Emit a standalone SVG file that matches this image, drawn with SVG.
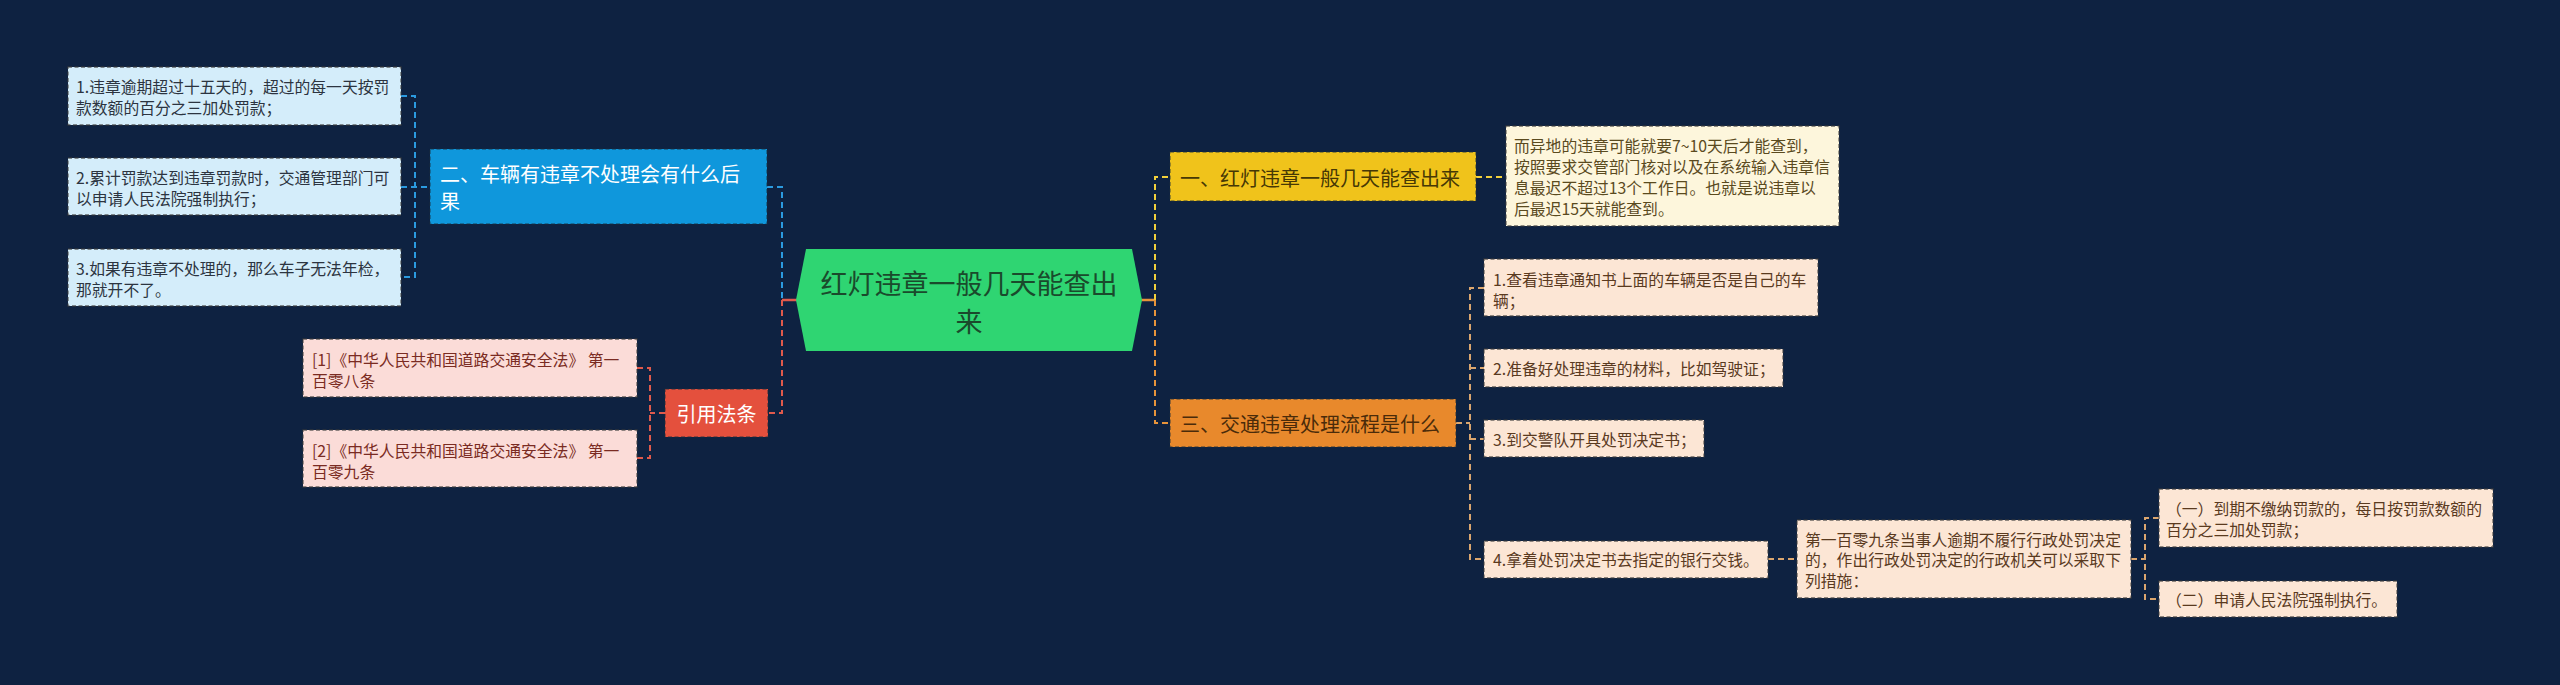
<svg xmlns="http://www.w3.org/2000/svg" width="2560" height="685" viewBox="0 0 2560 685">
<style>
text{font-family:"Noto Sans CJK SC","Microsoft YaHei","Noto Sans",sans-serif;dominant-baseline:central}
.t{font-size:15.8px}
.n{font-size:20px}
.nb{stroke:#1c2b3c;stroke-opacity:0.55;stroke-width:1.5;stroke-dasharray:4 2.5}
.lb{stroke:#3a3a3a;stroke-opacity:0.75;stroke-width:1.3;stroke-dasharray:4 2.5}
.c{fill:none;stroke-width:2;stroke-dasharray:6 4}
.s{fill:none;stroke-width:2.5}
</style>
<rect width="2560" height="685" fill="#0e2241"/>
<g id="connectors">
<path class="c" stroke="#2b9be0" d="M401,96H415V277H401M401,187H430M767,187H782V300"/>
<path class="c" stroke="#e05a4c" d="M782,300V413H768M665,413H650M637,368H650V458H637"/>
<path class="s" stroke="#e05a4c" d="M782,300H797"/>
<path class="s" stroke="#e8943a" d="M1141,300H1155"/>
<path class="c" stroke="#f2d13b" d="M1155,300V177H1170M1476,177H1506"/>
<path class="c" stroke="#e8943a" d="M1155,300V423H1170"/>
<path class="c" stroke="#dba66e" d="M1456,423H1470M1484,288H1470V559H1484M1470,368H1484M1470,439H1484M1768,559H1797M2131,559H2145M2159,518H2145V599H2159"/>
</g>
<g id="center">
<polygon points="796,300 806,249 1132,249 1142,300 1132,351 806,351" fill="#2fd572"/>
<text x="969" y="282" text-anchor="middle" font-size="27" fill="#1a4a2c">红灯违章一般几天能查出</text>
<text x="969" y="320" text-anchor="middle" font-size="27" fill="#1a4a2c">来</text>
</g>
<g id="node-b2">
<rect class="nb" x="430" y="149" width="337" height="75" fill="#0f97dc"/>
<text class="n" x="440" y="173" fill="#ffffff">二、车辆有违章不处理会有什么后</text>
<text class="n" x="440" y="200" fill="#ffffff">果</text>
</g>
<g id="b2-1">
<rect class="lb" x="68" y="67" width="333" height="58" fill="#d4edfa"/>
<text class="t" x="76" y="86" fill="#2c3440">1.违章逾期超过十五天的，超过的每一天按罚</text>
<text class="t" x="76" y="107" fill="#2c3440">款数额的百分之三加处罚款；</text>
</g>
<g id="b2-2">
<rect class="lb" x="68" y="158" width="333" height="57" fill="#d4edfa"/>
<text class="t" x="76" y="177" fill="#2c3440">2.累计罚款达到违章罚款时，交通管理部门可</text>
<text class="t" x="76" y="198" fill="#2c3440">以申请人民法院强制执行；</text>
</g>
<g id="b2-3">
<rect class="lb" x="68" y="249" width="333" height="57" fill="#d4edfa"/>
<text class="t" x="76" y="268" fill="#2c3440">3.如果有违章不处理的，那么车子无法年检，</text>
<text class="t" x="76" y="289" fill="#2c3440">那就开不了。</text>
</g>
<g id="node-ref">
<rect class="nb" x="665" y="389" width="103" height="48" fill="#e4503d"/>
<text class="n" x="716.5" y="413" text-anchor="middle" fill="#ffffff">引用法条</text>
</g>
<g id="ref-1">
<rect class="lb" x="303" y="339" width="334" height="58" fill="#fbdcd8"/>
<text class="t" x="312" y="359" fill="#7a2b22">[1]《中华人民共和国道路交通安全法》 第一</text>
<text class="t" x="312" y="380" fill="#7a2b22">百零八条</text>
</g>
<g id="ref-2">
<rect class="lb" x="303" y="430" width="334" height="57" fill="#fbdcd8"/>
<text class="t" x="312" y="450" fill="#7a2b22">[2]《中华人民共和国道路交通安全法》 第一</text>
<text class="t" x="312" y="471" fill="#7a2b22">百零九条</text>
</g>
<g id="node-b1">
<rect class="nb" x="1170" y="152" width="306" height="49" fill="#f0c31b"/>
<text class="n" x="1180" y="177" fill="#463805">一、红灯违章一般几天能查出来</text>
</g>
<g id="b1-1">
<rect class="lb" x="1506" y="126" width="333" height="100" fill="#fdf6dc"/>
<text class="t" x="1514" y="145" fill="#5a4a1e">而异地的违章可能就要7~10天后才能查到，</text>
<text class="t" x="1514" y="166" fill="#5a4a1e">按照要求交管部门核对以及在系统输入违章信</text>
<text class="t" x="1514" y="187" fill="#5a4a1e">息最迟不超过13个工作日。也就是说违章以</text>
<text class="t" x="1514" y="208" fill="#5a4a1e">后最迟15天就能查到。</text>
</g>
<g id="node-b3">
<rect class="nb" x="1170" y="399" width="286" height="48" fill="#e8892c"/>
<text class="n" x="1180" y="423" fill="#4a2b0a">三、交通违章处理流程是什么</text>
</g>
<g id="b3-1">
<rect class="lb" x="1484" y="259" width="334" height="57" fill="#fce6d5"/>
<text class="t" x="1493" y="279" fill="#5a3a1f">1.查看违章通知书上面的车辆是否是自己的车</text>
<text class="t" x="1493" y="300" fill="#5a3a1f">辆；</text>
</g>
<g id="b3-2">
<rect class="lb" x="1484" y="349" width="299" height="38" fill="#fce6d5"/>
<text class="t" x="1493" y="368" fill="#5a3a1f">2.准备好处理违章的材料，比如驾驶证；</text>
</g>
<g id="b3-3">
<rect class="lb" x="1484" y="420" width="220" height="37" fill="#fce6d5"/>
<text class="t" x="1493" y="439" fill="#5a3a1f">3.到交警队开具处罚决定书；</text>
</g>
<g id="b3-4">
<rect class="lb" x="1484" y="541" width="284" height="37" fill="#fce6d5"/>
<text class="t" x="1493" y="559" fill="#5a3a1f">4.拿着处罚决定书去指定的银行交钱。</text>
</g>
<g id="b3-4-1">
<rect class="lb" x="1797" y="520" width="334" height="78" fill="#fce6d5"/>
<text class="t" x="1805" y="539" fill="#5a3a1f">第一百零九条当事人逾期不履行行政处罚决定</text>
<text class="t" x="1805" y="559" fill="#5a3a1f">的，作出行政处罚决定的行政机关可以采取下</text>
<text class="t" x="1805" y="580" fill="#5a3a1f">列措施：</text>
</g>
<g id="b3-4-1-1">
<rect class="lb" x="2159" y="489" width="334" height="58" fill="#fce6d5"/>
<text class="t" x="2166" y="508" fill="#5a3a1f">（一）到期不缴纳罚款的，每日按罚款数额的</text>
<text class="t" x="2166" y="529" fill="#5a3a1f">百分之三加处罚款；</text>
</g>
<g id="b3-4-1-2">
<rect class="lb" x="2159" y="581" width="238" height="36" fill="#fce6d5"/>
<text class="t" x="2166" y="599" fill="#5a3a1f">（二）申请人民法院强制执行。</text>
</g>
</svg>
